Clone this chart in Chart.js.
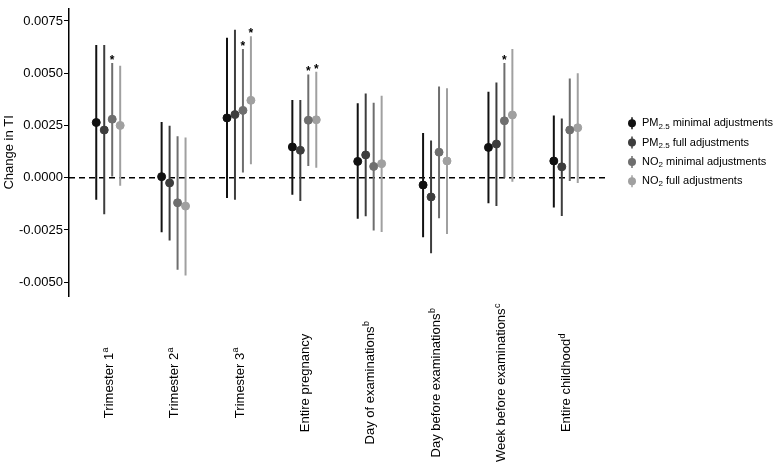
<!DOCTYPE html>
<html>
<head>
<meta charset="utf-8">
<script src="https://cdn.jsdelivr.net/npm/chart.js@4/dist/chart.umd.min.js"></script>
<style>
  html, body { margin: 0; padding: 0; background: #fff; }
  #chart { display: block; }
</style>
</head>
<body>
<canvas id="chart" width="778" height="467"></canvas>
<script>
// categories (x labels + superscript notes)
const catLabels = ["Trimester 1", "Trimester 2", "Trimester 3", "Entire pregnancy",
  "Day of examinations", "Day before examinations", "Week before examinations", "Entire childhood"];
const catSup = ["a", "a", "a", "", "b", "b", "c", "d"];

// y axis ticks
const yTicks = [-0.005, -0.0025, 0, 0.0025, 0.005, 0.0075];

// PM2.5 minimal adjustments
const pmMin   = [0.00264, 0.00005, 0.00286, 0.00147, 0.00078, -0.00035, 0.00145, 0.0008];
const pmMinLo = [-0.00105, -0.00261, -0.00097, -0.00082, -0.00197, -0.00285, -0.00122, -0.00143];
const pmMinHi = [0.00635, 0.00267, 0.0067, 0.00372, 0.00356, 0.00214, 0.00411, 0.00298];

// PM2.5 full adjustments
const pmFull   = [0.00228, -0.00025, 0.00302, 0.00131, 0.00109, -0.00092, 0.00161, 0.00052];
const pmFullLo = [-0.00175, -0.003, -0.00106, -0.00111, -0.00185, -0.00361, -0.00136, -0.00183];
const pmFullHi = [0.00635, 0.00249, 0.00708, 0.00372, 0.00403, 0.00178, 0.00455, 0.00283];

// NO2 minimal adjustments
const no2Min   = [0.0028, -0.0012, 0.00322, 0.00275, 0.00054, 0.00122, 0.00272, 0.00228];
const no2MinLo = [0.00006, -0.0044, 0.00025, 0.00056, -0.00253, -0.00194, 0.0, -0.00016];
const no2MinHi = [0.00549, 0.00198, 0.00616, 0.00494, 0.00359, 0.00436, 0.00549, 0.00474];

// NO2 full adjustments
const no2Full   = [0.0025, -0.00136, 0.0037, 0.00277, 0.00067, 0.0008, 0.003, 0.00239];
const no2FullLo = [-0.00038, -0.00468, 0.00064, 0.00047, -0.0026, -0.00269, -0.00019, -0.00025];
const no2FullHi = [0.00536, 0.00192, 0.00677, 0.00507, 0.00392, 0.00428, 0.00616, 0.005];

// significance stars
const pmMinStar   = [0, 0, 0, 0, 0, 0, 0, 0];
const pmFullStar  = [0, 0, 0, 0, 0, 0, 0, 0];
const no2MinStar  = [1, 0, 1, 1, 0, 0, 1, 0];
const no2FullStar = [0, 0, 1, 1, 0, 0, 0, 0];

const legendParts = [
  ["PM", "2.5", " minimal adjustments"],
  ["PM", "2.5", " full adjustments"],
  ["NO", "2", " minimal adjustments"],
  ["NO", "2", " full adjustments"]
];

const colors = ["#111111", "#3d3d3d", "#6e6e6e", "#a0a0a0"];
const dodge = [-0.183, -0.061, 0.061, 0.183];
const FONT = "'Liberation Sans', Arial, Helvetica, sans-serif";

const series = [
  { est: pmMin, lo: pmMinLo, hi: pmMinHi, star: pmMinStar },
  { est: pmFull, lo: pmFullLo, hi: pmFullHi, star: pmFullStar },
  { est: no2Min, lo: no2MinLo, hi: no2MinHi, star: no2MinStar },
  { est: no2Full, lo: no2FullLo, hi: no2FullHi, star: no2FullStar }
];

const datasets = [];

// zero reference line
datasets.push({
  type: "line",
  data: [{ x: 0.4, y: 0 }, { x: 8.6, y: 0 }],
  borderColor: "#000",
  borderWidth: 1.5,
  borderDash: [6, 4],
  pointRadius: 0,
  order: 10
});

series.forEach((s, k) => {
  const bars = [];
  s.est.forEach((v, i) => {
    const x = i + 1 + dodge[k];
    bars.push({ x, y: s.lo[i] }, { x, y: s.hi[i] }, { x, y: null });
  });
  datasets.push({
    type: "line",
    data: bars,
    borderColor: colors[k],
    borderWidth: 2,
    pointRadius: 0,
    spanGaps: false,
    order: 5
  });
  datasets.push({
    type: "scatter",
    data: s.est.map((v, i) => ({ x: i + 1 + dodge[k], y: v })),
    backgroundColor: colors[k],
    borderColor: colors[k],
    pointRadius: 4,
    pointHoverRadius: 4,
    order: 1
  });
});

const extras = {
  id: "extras",
  afterDatasetsDraw(chart) {
    const ctx = chart.ctx;
    const xs = chart.scales.x, ys = chart.scales.y;
    ctx.save();
    // stars
    ctx.fillStyle = "#000";
    ctx.font = "bold 12px " + FONT;
    ctx.textAlign = "center";
    ctx.textBaseline = "alphabetic";
    series.forEach((s, k) => {
      s.star.forEach((st, i) => {
        if (!st) return;
        ctx.fillText("*", xs.getPixelForValue(i + 1 + dodge[k]), ys.getPixelForValue(s.hi[i]) + 1);
      });
    });
    // category labels, rotated and centred
    catLabels.forEach((lab, i) => {
      const x = xs.getPixelForValue(i + 1);
      ctx.font = "13px " + FONT;
      const w1 = ctx.measureText(lab).width;
      ctx.font = "9px " + FONT;
      const w2 = catSup[i] ? ctx.measureText(catSup[i]).width : 0;
      ctx.save();
      ctx.translate(x + 1, 383);
      ctx.rotate(-Math.PI / 2);
      ctx.textAlign = "left";
      ctx.textBaseline = "middle";
      const start = -(w1 + w2) / 2;
      ctx.font = "13px " + FONT;
      ctx.fillText(lab, start, 0);
      if (catSup[i]) {
        ctx.font = "9px " + FONT;
        ctx.fillText(catSup[i], start + w1 + 0.5, -4);
      }
      ctx.restore();
    });
    // legend
    const lx = 632, ly0 = 123.3, step = 19.3;
    legendParts.forEach((p, k) => {
      const y = ly0 + k * step;
      ctx.strokeStyle = colors[k];
      ctx.lineWidth = 1.5;
      ctx.beginPath();
      ctx.moveTo(lx, y - 6);
      ctx.lineTo(lx, y + 6);
      ctx.stroke();
      ctx.fillStyle = colors[k];
      ctx.beginPath();
      ctx.arc(lx, y, 4, 0, Math.PI * 2);
      ctx.fill();
      ctx.fillStyle = "#000";
      ctx.textAlign = "left";
      ctx.textBaseline = "middle";
      let tx = 642;
      ctx.font = "11px " + FONT;
      ctx.fillText(p[0], tx, y);
      tx += ctx.measureText(p[0]).width;
      ctx.font = "8px " + FONT;
      ctx.fillText(p[1], tx, y + 3);
      tx += ctx.measureText(p[1]).width;
      ctx.font = "11px " + FONT;
      ctx.fillText(p[2], tx, y);
    });
    ctx.restore();
  }
};

new Chart(document.getElementById("chart"), {
  type: "scatter",
  data: { datasets },
  options: {
    responsive: false,
    animation: false,
    layout: { padding: { top: 3, right: 173, left: 0, bottom: 0 } },
    plugins: { legend: { display: false }, tooltip: { enabled: false } },
    scales: {
      x: {
        type: "linear",
        min: 0.4,
        max: 8.6,
        grid: { display: false },
        border: { display: false },
        ticks: { display: false },
        afterFit: (scale) => { scale.height = 171; }
      },
      y: {
        type: "linear",
        min: -0.00566,
        max: 0.00808,
        afterBuildTicks: (scale) => { scale.ticks = yTicks.map(v => ({ value: v })); },
        afterFit: (scale) => { scale.width = 69; },
        grid: {
          drawOnChartArea: false,
          drawTicks: true,
          tickLength: 5,
          color: "#000",
          lineWidth: 1
        },
        border: { display: true, color: "#000", width: 1.5 },
        ticks: {
          color: "#000",
          padding: 1,
          font: { family: FONT, size: 13 },
          callback: (v) => v.toFixed(4)
        },
        title: {
          display: true,
          text: "Change in TI",
          color: "#000",
          font: { family: FONT, size: 13 },
          padding: { top: 2, bottom: 2 }
        }
      }
    }
  },
  plugins: [extras]
});
</script>
</body>
</html>
